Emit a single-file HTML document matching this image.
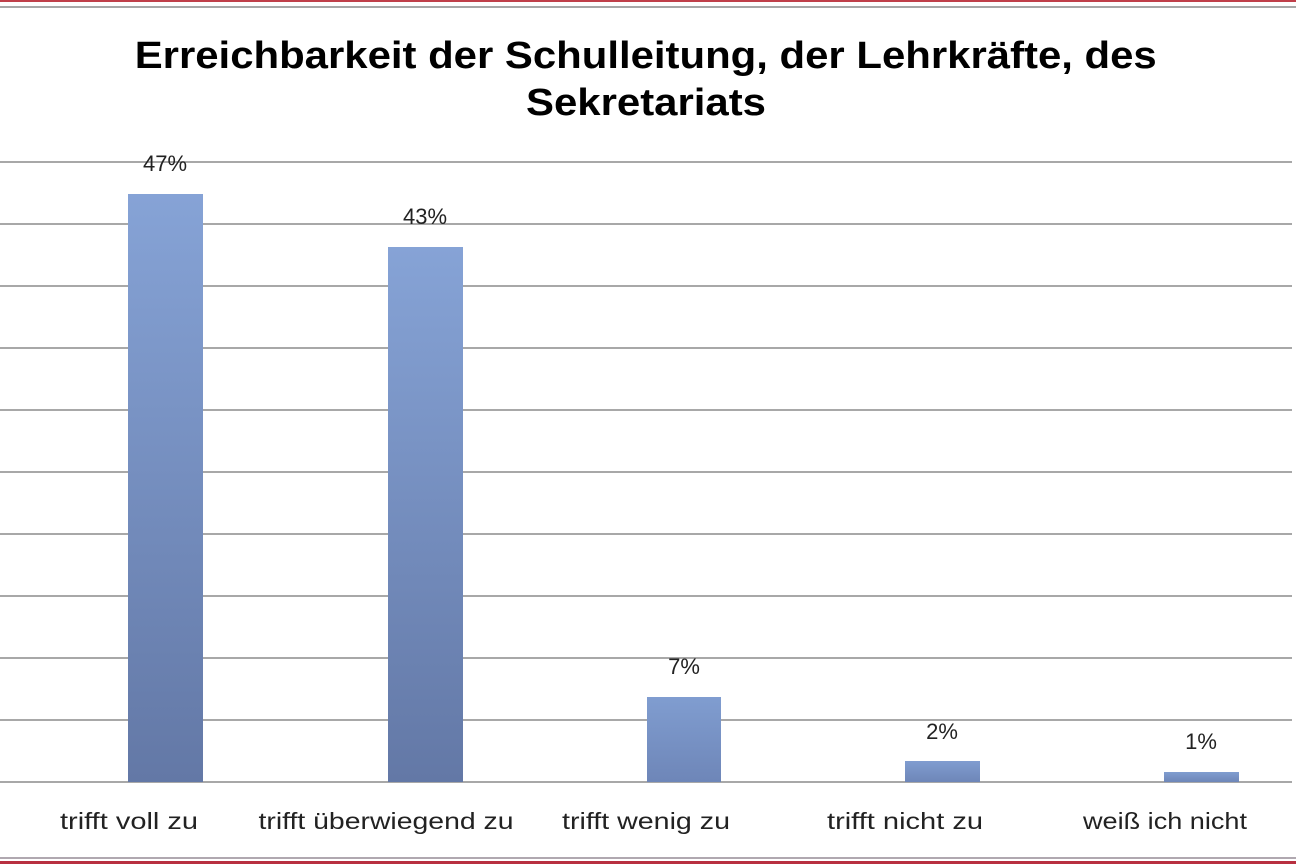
<!DOCTYPE html>
<html><head><meta charset="utf-8"><style>html,body{margin:0;padding:0;background:#fff}svg{display:block}</style></head>
<body>
<svg width="1296" height="864" viewBox="0 0 1296 864" xmlns="http://www.w3.org/2000/svg">
<defs>
<linearGradient id="g" x1="0" y1="0" x2="0" y2="1">
<stop offset="0" stop-color="#86a3d6"/><stop offset="1" stop-color="#6378a6"/>
</linearGradient>
<linearGradient id="gs" x1="0" y1="0" x2="0" y2="1">
<stop offset="0" stop-color="#809dd0"/><stop offset="1" stop-color="#6e86b8"/>
</linearGradient>
</defs>
<rect width="1296" height="864" fill="#fff"/>
<rect x="0" y="0" width="1296" height="2" fill="#c0404a"/>
<rect x="0" y="6" width="1296" height="2" fill="#a8a8a8"/>
<rect x="0" y="857" width="1296" height="2" fill="#b0a8b0"/>
<rect x="0" y="861" width="1296" height="3" fill="#b83040"/>
<text font-family="Liberation Sans, Arial, sans-serif" font-weight="bold" font-size="38" fill="#000" text-anchor="middle">
<tspan x="651" y="68" textLength="1022" lengthAdjust="spacingAndGlyphs">Erreichbarkeit der Schulleitung, der Lehrkräfte, des</tspan>
<tspan x="646" y="115" textLength="240" lengthAdjust="spacingAndGlyphs">Sekretariats</tspan>
</text>
<g stroke="#8c8c8c" stroke-width="1.5">
<line x1="0" x2="1292" y1="162" y2="162"/><line x1="0" x2="1292" y1="224" y2="224"/>
<line x1="0" x2="1292" y1="286" y2="286"/><line x1="0" x2="1292" y1="348" y2="348"/>
<line x1="0" x2="1292" y1="410" y2="410"/><line x1="0" x2="1292" y1="472" y2="472"/>
<line x1="0" x2="1292" y1="534" y2="534"/><line x1="0" x2="1292" y1="596" y2="596"/>
<line x1="0" x2="1292" y1="658" y2="658"/><line x1="0" x2="1292" y1="720" y2="720"/>
<line x1="0" x2="1292" y1="782" y2="782"/>
</g>
<rect x="128" y="194" width="75" height="588" fill="url(#g)"/>
<rect x="388" y="247" width="75" height="535" fill="url(#g)"/>
<rect x="647" y="697" width="74" height="85" fill="url(#gs)"/>
<rect x="905" y="761" width="75" height="21" fill="url(#gs)"/>
<rect x="1164" y="772" width="75" height="10" fill="url(#gs)"/>
<g font-family="Liberation Sans, Arial, sans-serif" font-size="22" fill="#222" text-anchor="middle">
<text x="165" y="171">47%</text>
<text x="425" y="224">43%</text>
<text x="684" y="674">7%</text>
<text x="942" y="739">2%</text>
<text x="1201" y="749">1%</text>
</g>
<g font-family="Liberation Sans, Arial, sans-serif" font-size="23" fill="#222" text-anchor="middle">
<text x="129" y="829" textLength="138" lengthAdjust="spacingAndGlyphs">trifft voll zu</text>
<text x="386" y="829" textLength="255" lengthAdjust="spacingAndGlyphs">trifft überwiegend  zu</text>
<text x="646" y="829" textLength="168" lengthAdjust="spacingAndGlyphs">trifft wenig  zu</text>
<text x="905" y="829" textLength="156" lengthAdjust="spacingAndGlyphs">trifft nicht zu</text>
<text x="1165" y="829" textLength="164" lengthAdjust="spacingAndGlyphs">weiß ich nicht</text>
</g>
</svg>
</body></html>
